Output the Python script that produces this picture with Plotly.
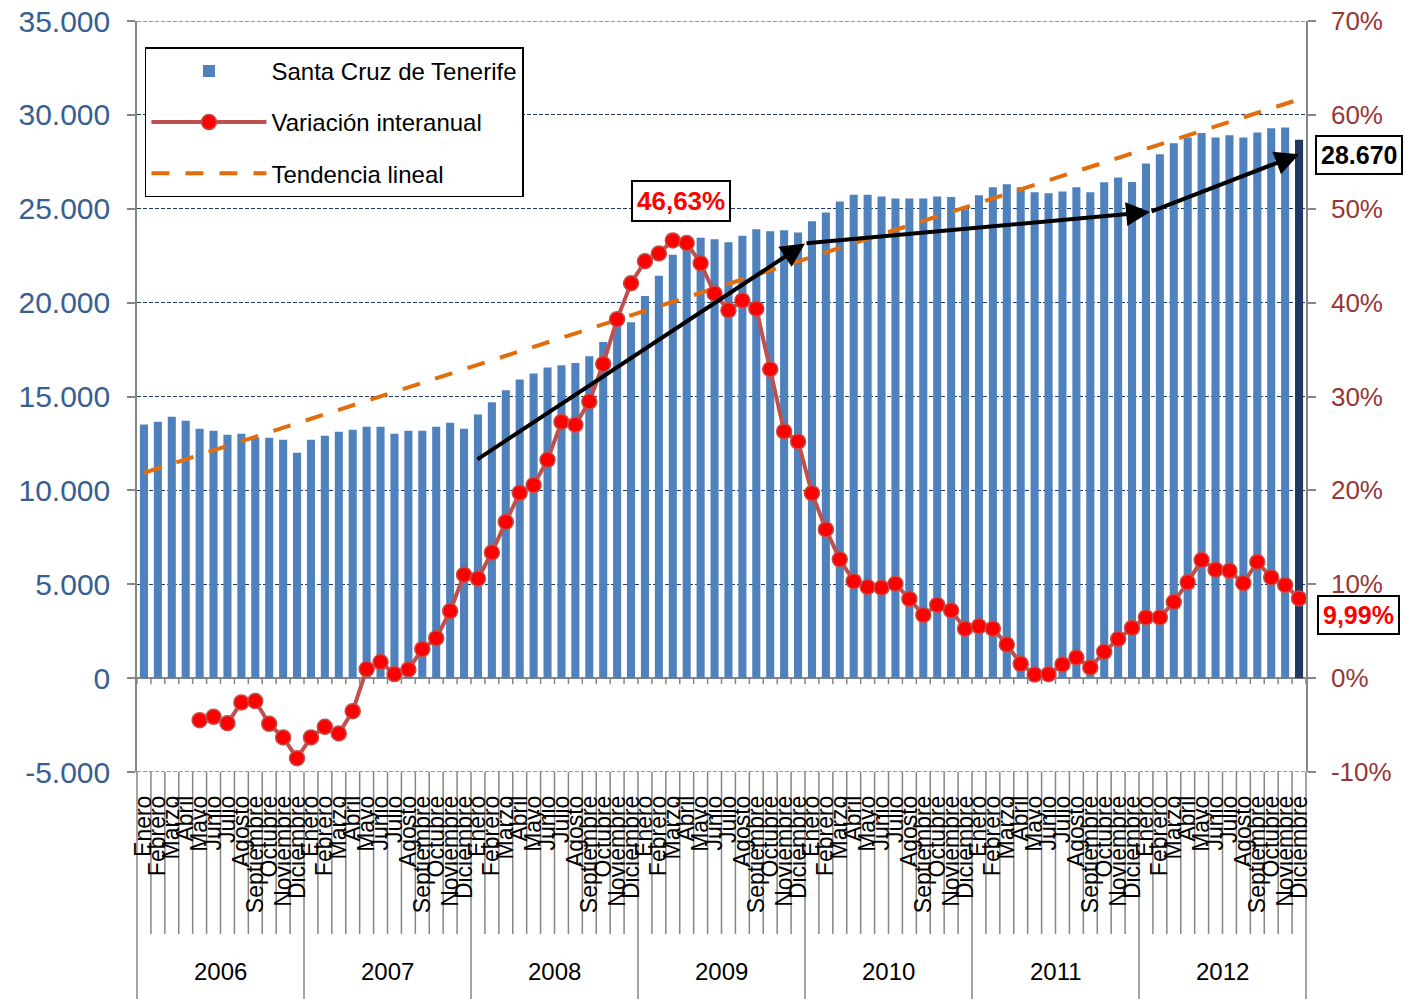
import numpy as np
import plotly.graph_objects as go

months = ["Enero", "Febrero", "Marzo", "Abril", "Mayo", "Junio", "Julio", "Agosto",
          "Septiembre", "Octubre", "Noviembre", "Diciembre"]
years = ["2006", "2007", "2008", "2009", "2010", "2011", "2012"]

santa_cruz = [
    13510, 13650, 13920, 13710, 13280, 13170, 12960, 13010, 12800, 12800, 12700, 12000,
    12700, 12910, 13120, 13230, 13390, 13390, 13010, 13170, 13170, 13390, 13600, 13280,
    14040, 14700, 15330, 15910, 16230, 16550, 16660, 16780, 17150, 17900, 18800, 18960,
    20350, 21430, 22550, 23300, 23450, 23370, 23220, 23560, 23910, 23800, 23860, 23740,
    24330, 24800, 25390, 25750, 25750, 25650, 25550, 25550, 25550, 25650, 25620, 24980,
    25720, 26150, 26300, 26140, 25880, 25820, 25920, 26140, 25880, 26410, 26670, 26430,
    27410, 27900, 28490, 28800, 29040, 28800, 28920, 28800, 29060, 29290, 29330, 28670,
]

variacion = [
    None, None, None, None, -4.48, -4.12, -4.80, -2.59, -2.45, -4.87, -6.32, -8.53,
    -6.32, -5.19, -5.90, -3.52, 0.96, 1.71, 0.43, 0.92, 3.09, 4.26, 7.14, 11.01,
    10.60, 13.38, 16.64, 19.74, 20.56, 23.25, 27.29, 26.99, 29.46, 33.46, 38.24, 42.06,
    44.41, 45.23, 46.63, 46.35, 44.19, 40.97, 39.18, 40.22, 39.36, 32.90, 26.28, 25.20,
    19.70, 15.84, 12.65, 10.33, 9.71, 9.63, 10.05, 8.44, 6.72, 7.80, 7.20, 5.27,
    5.52, 5.27, 3.58, 1.52, 0.38, 0.42, 1.45, 2.20, 1.14, 2.80, 4.17, 5.35,
    6.47, 6.47, 8.10, 10.20, 12.57, 11.55, 11.43, 10.12, 12.37, 10.73, 9.92, 8.49,
]

left_ticks = [-5000, 0, 5000, 10000, 15000, 20000, 25000, 30000, 35000]
left_labels = ["-5.000", "0", "5.000", "10.000", "15.000", "20.000", "25.000", "30.000", "35.000"]
right_ticks = [-10, 0, 10, 20, 30, 40, 50, 60, 70]
right_labels = ["-10%", "0%", "10%", "20%", "30%", "40%", "50%", "60%", "70%"]

label_peak = "46,63%"
label_last = "28.670"
label_var = "9,99%"

FONT = "Arial, Liberation Sans, sans-serif"
BAR = "#4F81BD"
BAR_LAST = "#1F3864"
GRAY = "#868686"
GRID = "#1F3864"

n = len(santa_cruz)
idx = np.arange(n)
month_text = months * len(years)
bar_colors = [BAR] * (n - 1) + [BAR_LAST]

slope, intercept = np.polyfit(idx, np.array(santa_cruz, dtype=float), 1)
trend = slope * idx + intercept

fig = go.Figure()
fig.add_trace(go.Bar(
    x=idx, y=santa_cruz, name="Santa Cruz de Tenerife",
    marker=dict(color=bar_colors, line=dict(width=0)),
    legendgroup="a",
))
fig.add_trace(go.Scatter(
    x=idx, y=variacion, name="Variación interanual", yaxis="y2",
    mode="lines+markers",
    line=dict(color="#C0504D", width=4),
    marker=dict(size=15, color="#FF0000", line=dict(color="#C0504D", width=1.5)),
    legendgroup="b",
))
fig.add_trace(go.Scatter(
    x=idx, y=trend, name="Tendencia lineal", mode="lines",
    line=dict(color="#E46C0A", width=4, dash="18px,16px"),
    legendgroup="c",
))

shapes = []
for k in range(n + 1):
    frac = k / n
    is_year = (k % 12 == 0)
    shapes.append(dict(
        type="line", xref="paper", yref="paper", ysizemode="pixel", yanchor=0,
        x0=frac, x1=frac, y0=0, y1=-(230 if is_year else 162),
        line=dict(color=GRAY, width=1.5), layer="below",
    ))
    shapes.append(dict(
        type="line", xref="paper", yref="y", ysizemode="pixel", yanchor=0,
        x0=frac, x1=frac, y0=0, y1=-6,
        line=dict(color=GRAY, width=1.5), layer="above",
    ))
for yv in (left_ticks[0], left_ticks[-1]):
    shapes.append(dict(
        type="line", xref="paper", yref="y", x0=0, x1=1, y0=yv, y1=yv,
        line=dict(color=GRID, width=1, dash="4px,2px"), layer="below",
    ))

annotations = []
for j, yr in enumerate(years):
    annotations.append(dict(
        text=yr, xref="paper", yref="paper", x=(12 * j + 6) / n, y=-0.266,
        showarrow=False, font=dict(size=24, color="black", family=FONT),
        xanchor="center", yanchor="middle",
    ))

arrow_pts = [(23.85, 11600), (47.5, 23150), (72.3, 24830), (83.0, 27900)]
for (x0, y0), (x1, y1) in zip(arrow_pts[:-1], arrow_pts[1:]):
    annotations.append(dict(
        x=x1, y=y1, ax=x0, ay=y0, xref="x", yref="y", axref="x", ayref="y",
        showarrow=True, arrowhead=2, arrowsize=1.2, arrowwidth=4, arrowcolor="black",
        text="",
    ))

box_style = dict(showarrow=False, bordercolor="black", borderwidth=2, bgcolor="white",
                 borderpad=4, xanchor="center", yanchor="middle")
annotations.append(dict(text="<b>" + label_peak + "</b>", x=38.6, y=25420, xref="x", yref="y",
                        font=dict(size=26, color="#FF0000", family=FONT), **box_style))
annotations.append(dict(text="<b>" + label_last + "</b>", x=1.0453, y=27860, xref="paper", yref="y",
                        font=dict(size=25, color="black", family=FONT), **box_style))
annotations.append(dict(text="<b>" + label_var + "</b>", x=1.0445, y=3380, xref="paper", yref="y",
                        font=dict(size=25, color="#FF0000", family=FONT), **box_style))

fig.update_layout(
    width=1405, height=999,
    margin=dict(l=137, r=99, t=21, b=227, autoexpand=False),
    paper_bgcolor="white", plot_bgcolor="white",
    font=dict(family=FONT, color="black"),
    bargap=0.42,
    showlegend=True,
    legend=dict(
        x=0.0068, y=0.965, xanchor="left", yanchor="top",
        bordercolor="black", borderwidth=1.5, bgcolor="white",
        font=dict(size=24, color="black", family=FONT),
        tracegroupgap=17, itemwidth=115, traceorder="grouped",
    ),
    xaxis=dict(
        range=[-0.5, n - 0.5], tickmode="array", tickvals=list(idx), ticktext=month_text,
        tickangle=-90, tickfont=dict(size=23, color="black", family=FONT),
        ticks="", showline=False, showgrid=False, zeroline=False,
        ticklabelstandoff=18, automargin=False,
    ),
    yaxis=dict(
        range=[-5000, 35000], tickmode="array", tickvals=left_ticks, ticktext=left_labels,
        tickfont=dict(size=30, color="#376092", family=FONT),
        showgrid=True, gridcolor=GRID, gridwidth=1, griddash="4px,2px",
        showline=True, linecolor=GRAY, linewidth=1.5,
        ticks="outside", ticklen=8, tickcolor=GRAY, tickwidth=1.5,
        zeroline=True, zerolinecolor=GRAY, zerolinewidth=1.5,
        ticklabelstandoff=11, automargin=False, ticklabeloverflow="allow",
    ),
    yaxis2=dict(
        range=[-10, 70], overlaying="y", side="right", tickmode="array",
        tickvals=right_ticks, ticktext=right_labels,
        tickfont=dict(size=26, color="#953735", family=FONT),
        showgrid=False, zeroline=False,
        showline=True, linecolor=GRAY, linewidth=1.5,
        ticks="outside", ticklen=8, tickcolor=GRAY, tickwidth=1.5,
        ticklabelstandoff=10, automargin=False, ticklabeloverflow="allow",
    ),
    shapes=shapes,
    annotations=annotations,
)

fig.write_html("out.html", config={"displayModeBar": False},
               post_script="document.body.style.margin='0';")
